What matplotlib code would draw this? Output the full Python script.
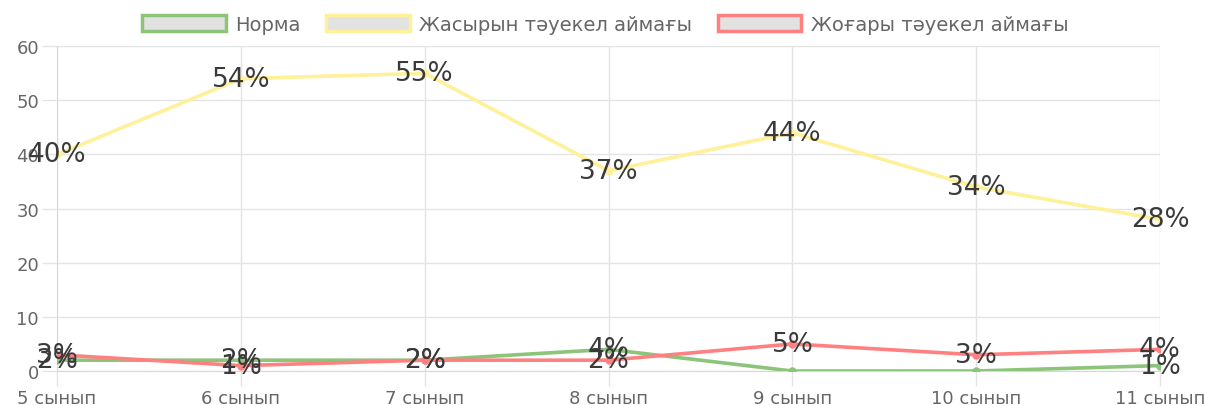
import matplotlib.pyplot as plt
from matplotlib.patches import Patch

grades = ['5 сынып', '6 сынып', '7 сынып', '8 сынып', '9 сынып', '10 сынып', '11 сынып']
norma = [2, 2, 2, 4, 0, 0, 1]
hidden_risk = [40, 54, 55, 37, 44, 34, 28]
high_risk = [3, 1, 2, 2, 5, 3, 4]

series_names = ['Норма', 'Жасырын тәуекел аймағы', 'Жоғары тәуекел аймағы']
colours = ['#8cc47a', '#fff09a', '#ff8080']

fig = plt.figure(figsize=(12.06, 4.06), dpi=100)
ax = fig.add_axes([0.0473, 0.0837, 0.9146, 0.800])

x = list(range(len(grades)))
for vals, col in zip([norma, hidden_risk, high_risk], colours):
    ax.plot(x, vals, color=col, lw=2.6, marker='o', ms=5, mec=col, mfc=col,
            solid_joinstyle='round', zorder=3)
    for xi, v in zip(x, vals):
        if v == 0:
            continue
        ax.text(xi, v, f'{v}%', ha='center', va='center', fontsize=19,
                color='#3a3a3a', zorder=5)

ax.set_xlim(0, len(grades) - 1)
ax.set_ylim(0, 60)
ax.set_yticks(range(0, 61, 10))
ax.set_xticks(x)
ax.set_xticklabels(grades)
ax.margins(x=0)

ax.grid(True, color='#e4e4e4', lw=1)
ax.set_axisbelow(True)
for side in ['top', 'right']:
    ax.spines[side].set_visible(False)
for side in ['left', 'bottom']:
    ax.spines[side].set_color('#d8d8d8')
ax.tick_params(axis='both', colors='#e4e4e4', labelcolor='#666666',
               labelsize=13, length=11, width=1)
ax.tick_params(axis='y', pad=2)
ax.tick_params(axis='x', pad=2)

handles = [Patch(facecolor='#e2e2e2', edgecolor=c, lw=2.5) for c in colours]
fig.legend(handles, series_names, loc='upper center', bbox_to_anchor=(0.502, 1.0),
           ncol=3, frameon=False, fontsize=14, labelcolor='#666666',
           handlelength=4.3, handleheight=0.95, columnspacing=1.3, handletextpad=0.5,
           borderaxespad=0.4)

fig.savefig('out.png', dpi=100)
